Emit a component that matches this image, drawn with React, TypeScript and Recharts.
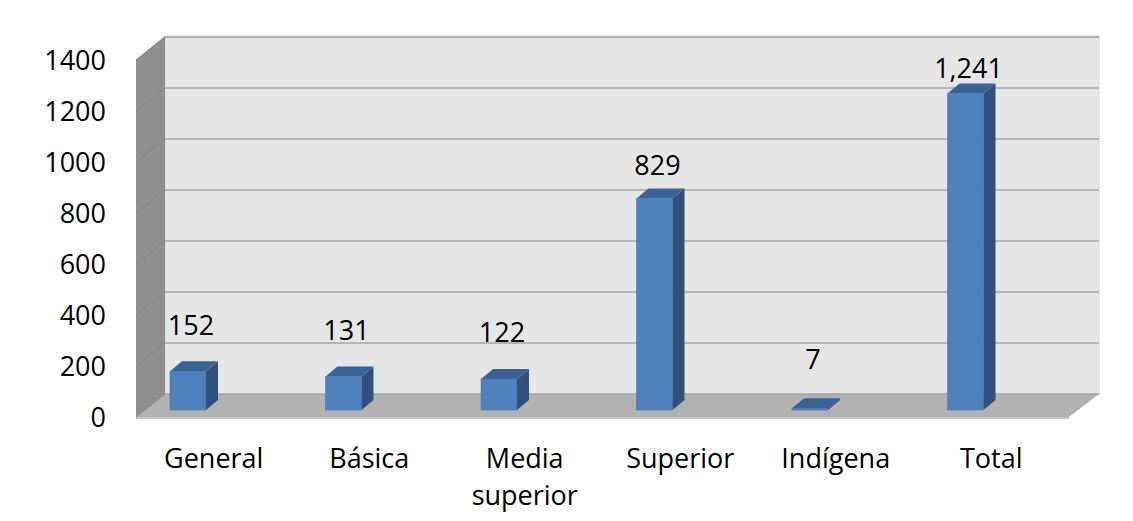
import React from 'react';
import { BarChart, Bar, XAxis, YAxis, CartesianGrid, ReferenceArea, LabelList } from 'recharts';

const categories = ['General', 'Básica', 'Media superior', 'Superior', 'Indígena', 'Total'];
const values = [152, 131, 122, 829, 7, 1241];
const yTicks = [0, 200, 400, 600, 800, 1000, 1200, 1400];

const data = categories.map((name, i) => ({ name, value: values[i] }));

const FONT = '"Open Sans", sans-serif';
// 3D offsets relative to the bar plane
const BACK_X = 55;
const BACK_Y = -16;
const FRONT_X = 26;
const FRONT_Y = 7;
const DEPTH_X = 12;
const DEPTH_Y = 10;

const Walls = (props: any) => {
    const { x, y, width, height } = props;
    const bl = x + BACK_X, br = x + width + BACK_X + 1;
    const bt = y + BACK_Y - 1, bb = y + height + BACK_Y;
    const fl = x + FRONT_X, fr = x + width + FRONT_X;
    const ft = y + FRONT_Y, fb = y + height + FRONT_Y;
    return (
        <g>
            <rect x={bl} y={bt} width={br - bl} height={bb - bt} fill="#e6e6e6" stroke="#d8d8d8" />
            <polygon points={`${fl},${ft} ${bl},${bt} ${bl},${bb} ${fl},${fb}`} fill="#8f8f8f" />
            <polygon points={`${fl},${fb} ${bl},${bb} ${br},${bb} ${fr},${fb}`} fill="#b2b2b2" />
            <line x1={fl} y1={fb + 1} x2={fr} y2={fb + 1} stroke="#c4c4c4" strokeWidth={2} />
        </g>
    );
};

const GridLine = (props: any) => {
    const { x1, x2, y1 } = props;
    return (
        <g>
            <line x1={x1 + BACK_X} y1={y1 + BACK_Y} x2={x2 + BACK_X + 1} y2={y1 + BACK_Y} stroke="#a3a3a3" strokeWidth={1.5} />
            <line x1={x1 + FRONT_X} y1={y1 + FRONT_Y} x2={x1 + BACK_X} y2={y1 + BACK_Y} stroke="#858585" strokeWidth={1} />
        </g>
    );
};

const Bar3D = (props: any) => {
    const { x, y, width, height } = props;
    const dx = DEPTH_X, dy = DEPTH_Y;
    const h = Math.max(height, 0);
    return (
        <g>
            <polygon points={`${x + width},${y} ${x + width + dx},${y - dy} ${x + width + dx},${y + h - dy} ${x + width},${y + h}`} fill="#31517c" />
            <polygon points={`${x},${y} ${x + dx},${y - dy} ${x + width + dx},${y - dy} ${x + width},${y}`} fill="#3a6395" />
            <rect x={x} y={y} width={width} height={h} fill="#4f81bd" stroke="#3f6ea8" strokeWidth={0.5} />
        </g>
    );
};

const YTick = (props: any) => {
    const { x, y, payload } = props;
    return (
        <text x={x} y={y + FRONT_Y + 10} textAnchor="end" fontFamily={FONT} fontSize={27} fill="#000">
            {payload.value}
        </text>
    );
};

const XTick = (props: any) => {
    const { x, y, payload } = props;
    const words = String(payload.value).split(' ');
    const lines = words.length > 1 ? words : [payload.value];
    return (
        <text x={x + FRONT_X} y={y + 56} textAnchor="middle" fontFamily={FONT} fontSize={27} fill="#000">
            {lines.map((l: string, i: number) => (
                <tspan key={i} x={x + FRONT_X} dy={i === 0 ? 0 : 37}>{l}</tspan>
            ))}
        </text>
    );
};

const ValueLabel = (props: any) => {
    const { x, y, width, height, value } = props;
    // label sits a bit further off short bars, as in the 3D perspective
    const gap = 49 - 0.075 * Math.max(height, 0);
    return (
        <text x={x + width / 2 + 3} y={y - gap + 10} textAnchor="middle" fontFamily={FONT} fontSize={27} fill="#000">
            {Number(value).toLocaleString('en-US')}
        </text>
    );
};

export default function App() {
    return (
        <div style={{ position: 'relative', margin: -8, width: 1133, height: 521, background: '#fff' }}>
            <div style={{ position: 'absolute', left: 6, top: 14, width: 2, height: 507, background: '#bfbfbf' }} />
            <BarChart
                width={1133}
                height={521}
                data={data}
                margin={{ top: 53, right: 90, bottom: 51, left: 10 }}
                barSize={36}
            >
                <ReferenceArea y1={0} y2={1400} ifOverflow="visible" shape={<Walls />} zIndex={-200} />
                <CartesianGrid vertical={false} horizontal={<GridLine />} zIndex={-100} />
                <XAxis dataKey="name" axisLine={false} tickLine={false} tickSize={0} height={60} interval={0} tick={<XTick />} />
                <YAxis
                    domain={[0, 1400]}
                    ticks={yTicks}
                    width={100}
                    axisLine={false}
                    tickLine={false}
                    tickSize={0}
                    tickMargin={4}
                    tick={<YTick />}
                />
                <Bar dataKey="value" shape={<Bar3D />} isAnimationActive={false}>
                    <LabelList dataKey="value" content={<ValueLabel />} />
                </Bar>
            </BarChart>
        </div>
    );
}
